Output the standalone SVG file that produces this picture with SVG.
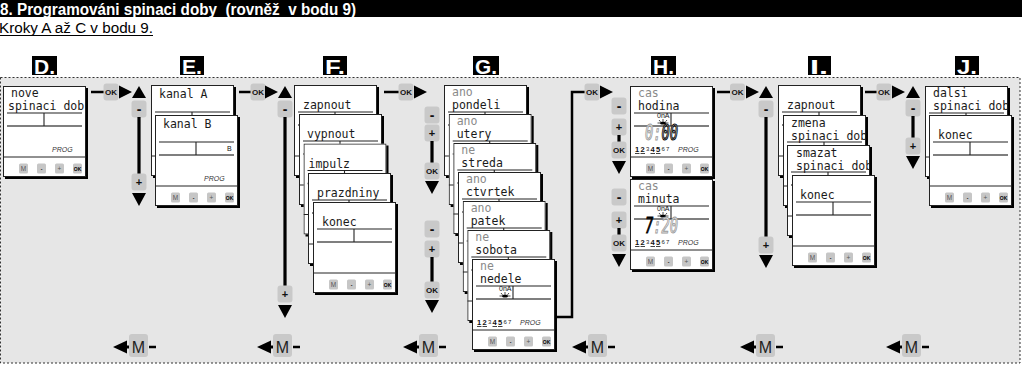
<svg xmlns="http://www.w3.org/2000/svg" xmlns:xlink="http://www.w3.org/1999/xlink" width="1022" height="379" viewBox="0 0 1022 379">
<style>
.sh{fill:#000}
.bg{fill:#fff}
.bd{fill:none;stroke:#222;stroke-width:1}
.g1{stroke:#222;stroke-width:1.1}
.g2{stroke:#555;stroke-width:1.4}
.sep{stroke:#222;stroke-width:1}
.kb{fill:#c6c6c6}
.kt{font-family:"Liberation Sans",Arial,sans-serif;font-size:6.5px;text-anchor:middle;fill:#555}
.kto{font-family:"Liberation Sans",Arial,sans-serif;font-size:5px;font-weight:bold;text-anchor:middle;fill:#000}
.t{font-family:"DejaVu Sans Mono",monospace;font-size:11.5px;fill:#1a1a1a}
.dim{fill:#8a8a8a}
.prog{font-family:"Liberation Sans",Arial,sans-serif;font-style:italic;font-size:7px;fill:#333}
.small{font-family:"Liberation Sans",Arial,sans-serif;font-size:7px;fill:#111}
.day{font-family:"Liberation Sans",Arial,sans-serif;font-size:7.5px;font-weight:bold;fill:#111}
.dayS{font-family:"Liberation Sans",Arial,sans-serif;font-size:6px;fill:#222}
.ul{stroke:#111;stroke-width:0.8}
.dg{font-family:"DejaVu Sans Mono",monospace;font-style:italic;font-size:13.7px}
.dgB{fill:#fff;stroke:#000;stroke-width:0.8}
.dgG{fill:#fff;stroke:#999;stroke-width:0.7}
.dgK{fill:#000;stroke:#000;stroke-width:0.5}
.cb{fill:#c9c9c9}
.ct{font-family:"Liberation Sans",Arial,sans-serif;font-weight:bold;text-anchor:middle;fill:#111}
.hl{stroke:#000;stroke-width:2.5;fill:none}
.vl{stroke:#000;stroke-width:3.2}
.ar{fill:#000}
.lb{font-family:"Liberation Sans",Arial,sans-serif;font-weight:bold;font-size:21px;fill:#fff}
.mt{font-family:"Liberation Sans",Arial,sans-serif;font-size:16px;fill:#222;text-anchor:middle}
</style>
<defs>
<g id="cb">
<rect class="bg" width="83" height="91"/>
<line class="g1" x1="4" y1="27" x2="79" y2="27"/>
<line class="g2" x1="4" y1="40" x2="79" y2="40"/>
<line class="g1" x1="41" y1="27" x2="41" y2="40"/>
<line class="sep" x1="0" y1="71" x2="83" y2="71"/>
<rect class="kb" x="16" y="77.5" width="9" height="10" rx="1.5"/><text class="kt" x="20.5" y="85">M</text>
<rect class="kb" x="34" y="77.5" width="9" height="10" rx="1.5"/><text class="kto" x="38.5" y="85" font-size="8">-</text>
<rect class="kb" x="52" y="77.5" width="9" height="10" rx="1.5"/><text class="kt" x="56.5" y="85">+</text>
<rect class="kb" x="70" y="77.5" width="9" height="10" rx="1.5"/><text class="kto" x="74.5" y="84.5">OK</text>
<rect class="bd" x="0.5" y="0.5" width="82" height="90"/>
</g>
<g id="kOK"><rect class="cb" x="-7.5" y="-8.5" width="15" height="17" rx="3"/><text class="ct" y="3" font-size="8">OK</text></g>
<g id="kMi"><rect class="cb" x="-7.5" y="-8.5" width="15" height="17" rx="3"/><text class="ct" y="5" font-size="14">-</text></g>
<g id="kPl"><rect class="cb" x="-7.5" y="-8.5" width="15" height="17" rx="3"/><text class="ct" y="4" font-size="11">+</text></g>
<path id="tR" class="ar" d="M0,-6.5L13,0L0,6.5Z"/>
<path id="tU" class="ar" d="M-7,12L0,0L7,12Z"/>
<path id="tD" class="ar" d="M-7,0L7,0L0,13Z"/>
<g id="sun"><ellipse rx="3" ry="1.6" fill="#000"/><path d="M0,-1.6V-4M-2.5,-1.2L-4,-3M2.5,-1.2L4,-3M-3,0H-5.5M3,0H5.5" stroke="#000" stroke-width="0.7"/></g>
<g id="mback"><path class="ar" d="M0,0L14,-6.5L14,6.5Z"/><line x1="12" y1="0" x2="17" y2="0" stroke="#000" stroke-width="3"/><rect class="cb" x="16" y="-13" width="19" height="23" rx="3"/><text class="mt" x="25.5" y="5.5">M</text><line x1="36" y1="0" x2="43" y2="0" stroke="#000" stroke-width="2.5"/></g>
<g id="days7">
<text class="day" x="5" y="66">1</text><text class="day" x="10.5" y="66">2</text><text class="dayS" x="16" y="64.5">3</text><text class="day" x="20.5" y="66">4</text><text class="day" x="26" y="66">5</text><text class="dayS" x="31.5" y="64.5">6</text><text class="dayS" x="36" y="64.5">7</text>
<line class="ul" x1="5" y1="67.5" x2="9.5" y2="67.5"/><line class="ul" x1="10.5" y1="67.5" x2="15" y2="67.5"/><line class="ul" x1="20.5" y1="67.5" x2="25" y2="67.5"/><line class="ul" x1="26" y1="67.5" x2="30.5" y2="67.5"/>
</g>
</defs>

<!-- header -->
<rect x="0" y="0" width="1022" height="17" fill="#000"/>
<text x="0" y="14.5" xml:space="preserve" font-family="'Liberation Sans',Arial,sans-serif" font-weight="bold" font-size="16" fill="#fff" textLength="356" lengthAdjust="spacingAndGlyphs">8. Programováni spinaci doby  (rovněž  v bodu 9)</text>
<text x="-1" y="32.5" font-family="'Liberation Sans',Arial,sans-serif" font-size="15.5" fill="#000" textLength="154" lengthAdjust="spacingAndGlyphs">Kroky A až C v bodu 9.</text>
<line x1="0" y1="35.5" x2="153" y2="35.5" stroke="#000" stroke-width="1.2"/>

<!-- panel -->
<rect x="0.5" y="77.5" width="1019.5" height="285.5" fill="#e6e6e6" stroke="#333" stroke-width="1" stroke-dasharray="2,2"/>

<!-- step labels -->
<g id="label-D"><rect x="32" y="56" width="25" height="19" fill="#000"/><text class="lb" x="34" y="74" textLength="21" lengthAdjust="spacingAndGlyphs">D.</text></g>
<g id="label-E"><rect x="180" y="56" width="24" height="19" fill="#000"/><text class="lb" x="182" y="74" textLength="20" lengthAdjust="spacingAndGlyphs">E.</text></g>
<g id="label-F"><rect x="323" y="56" width="24" height="19" fill="#000"/><text class="lb" x="325" y="74" textLength="20" lengthAdjust="spacingAndGlyphs">F.</text></g>
<g id="label-G"><rect x="473" y="56" width="26" height="19" fill="#000"/><text class="lb" x="475" y="74" textLength="22" lengthAdjust="spacingAndGlyphs">G.</text></g>
<g id="label-H"><rect x="651" y="56" width="25" height="19" fill="#000"/><text class="lb" x="653" y="74" textLength="21" lengthAdjust="spacingAndGlyphs">H.</text></g>
<g id="label-I"><rect x="808" y="56" width="23" height="19" fill="#000"/><text class="lb" x="810" y="74" textLength="18" lengthAdjust="spacingAndGlyphs">I.</text></g>
<g id="label-J"><rect x="955" y="56" width="24" height="19" fill="#000"/><text class="lb" x="957" y="74" textLength="20" lengthAdjust="spacingAndGlyphs">J.</text></g>

<!-- D -->
<g id="D-nove"><rect class="sh" x="5" y="88" width="83" height="91"/><svg x="3" y="86" width="83" height="91"><use href="#cb"/><text class="t" x="8" y="11">nove</text><text class="t" x="5" y="24">spinaci dob</text><text class="prog" x="49" y="66">PROG</text></svg></g>

<!-- E -->
<g id="E-kanalA"><rect class="sh" x="153" y="87" width="83" height="91"/><svg x="151" y="85" width="83" height="91"><use href="#cb"/><text class="t" x="8" y="13">kanal A</text></svg></g>
<g id="E-kanalB"><rect class="sh" x="157" y="117" width="83" height="91"/><svg x="155" y="115" width="83" height="91"><use href="#cb"/><text class="t" x="8" y="13">kanal B</text><text class="small" x="72" y="36">B</text><text class="prog" x="49" y="66">PROG</text></svg></g>

<!-- F -->
<g id="F-zapnout"><rect class="sh" x="296" y="87" width="83" height="91"/><svg x="294" y="85" width="83" height="91"><use href="#cb"/><text class="t" x="9" y="24">zapnout</text></svg></g>
<g id="F-vypnout"><rect class="sh" x="301" y="116" width="83" height="91"/><svg x="299" y="114" width="83" height="91"><use href="#cb"/><text class="t" x="8" y="24">vypnout</text></svg></g>
<g id="F-impulz"><rect class="sh" x="305.5" y="145.5" width="83" height="91"/><svg x="303.5" y="143.5" width="83" height="91"><use href="#cb"/><text class="t" x="5" y="24">impulz</text></svg></g>
<g id="F-prazdniny"><rect class="sh" x="310" y="175" width="83" height="91"/><svg x="308" y="173" width="83" height="91"><use href="#cb"/><text class="t" x="9" y="24">prazdniny</text></svg></g>
<g id="F-konec"><rect class="sh" x="315" y="204" width="83" height="91"/><svg x="313" y="202" width="83" height="91"><use href="#cb"/><text class="t" x="9" y="24">konec</text></svg></g>

<!-- G -->
<g id="G-pondeli"><rect class="sh" x="446" y="87" width="83" height="91"/><svg x="444" y="85" width="83" height="91"><use href="#cb"/><text class="t dim" x="8" y="11">ano</text><text class="t" x="8" y="24">pondeli</text></svg></g>
<g id="G-utery"><rect class="sh" x="450.7" y="116" width="83" height="91"/><svg x="448.7" y="114" width="83" height="91"><use href="#cb"/><text class="t dim" x="8" y="11">ano</text><text class="t" x="8" y="24">utery</text></svg></g>
<g id="G-streda"><rect class="sh" x="455.3" y="145" width="83" height="91"/><svg x="453.3" y="143" width="83" height="91"><use href="#cb"/><text class="t dim" x="8" y="11">ne</text><text class="t" x="8" y="24">streda</text></svg></g>
<g id="G-ctvrtek"><rect class="sh" x="460" y="174" width="83" height="91"/><svg x="458" y="172" width="83" height="91"><use href="#cb"/><text class="t dim" x="8" y="11">ano</text><text class="t" x="8" y="24">ctvrtek</text></svg></g>
<g id="G-patek"><rect class="sh" x="464.7" y="203" width="83" height="91"/><svg x="462.7" y="201" width="83" height="91"><use href="#cb"/><text class="t dim" x="8" y="11">ano</text><text class="t" x="8" y="24">patek</text></svg></g>
<g id="G-sobota"><rect class="sh" x="469.3" y="232" width="83" height="91"/><svg x="467.3" y="230" width="83" height="91"><use href="#cb"/><text class="t dim" x="8" y="11">ne</text><text class="t" x="8" y="24">sobota</text></svg></g>
<g id="G-nedele"><rect class="sh" x="474" y="261" width="83" height="91"/><svg x="472" y="259" width="83" height="91"><use href="#cb"/><text class="t dim" x="8" y="11">ne</text><text class="t" x="8" y="24">nedele</text><text class="small" x="27" y="32">0nA</text><use href="#sun" x="33" y="37"/><use href="#days7"/><text class="prog" x="48" y="66">PROG</text></svg></g>

<!-- H -->
<g id="H-hodina"><rect class="sh" x="632" y="88" width="83" height="91"/><svg x="630" y="86" width="83" height="91"><use href="#cb"/><text class="t dim" x="8" y="11">cas</text><text class="t" x="8" y="24">hodina</text><text class="small" x="27" y="32">0nA</text><use href="#sun" x="33" y="37"/><text class="dg" transform="translate(15,54) scale(1,1.55)"><tspan class="dgG">0:</tspan><tspan class="dgB">00</tspan></text><use href="#days7"/><text class="prog" x="48" y="66">PROG</text></svg></g>
<g id="H-minuta"><rect class="sh" x="632" y="181" width="83" height="91"/><svg x="630" y="179" width="83" height="91"><use href="#cb"/><text class="t dim" x="8" y="11">cas</text><text class="t" x="8" y="24">minuta</text><text class="small" x="27" y="32">0nA</text><use href="#sun" x="33" y="37"/><text class="dg" transform="translate(15,54) scale(1,1.55)"><tspan class="dgK">7</tspan><tspan class="dgG">:20</tspan></text><use href="#days7"/><text class="prog" x="48" y="66">PROG</text></svg></g>

<!-- I -->
<g id="I-zapnout"><rect class="sh" x="780" y="87" width="83" height="91"/><svg x="778" y="85" width="83" height="91"><use href="#cb"/><text class="t" x="9" y="24">zapnout</text></svg></g>
<g id="I-zmena"><rect class="sh" x="785" y="117" width="83" height="91"/><svg x="783" y="115" width="83" height="91"><use href="#cb"/><text class="t" x="8" y="12">zmena</text><text class="t" x="8" y="25">spinaci dob</text></svg></g>
<g id="I-smazat"><rect class="sh" x="789" y="147" width="83" height="91"/><svg x="787" y="145" width="83" height="91"><use href="#cb"/><text class="t" x="9" y="12">smazat</text><text class="t" x="9" y="25">spinaci dob</text></svg></g>
<g id="I-konec"><rect class="sh" x="794" y="177" width="83" height="91"/><svg x="792" y="175" width="83" height="91"><use href="#cb"/><text class="t" x="8" y="24">konec</text></svg></g>

<!-- J -->
<g id="J-dalsi"><rect class="sh" x="927" y="88" width="83" height="91"/><svg x="925" y="86" width="83" height="91"><use href="#cb"/><text class="t" x="8" y="11">dalsi</text><text class="t" x="8" y="24">spinaci dob</text></svg></g>
<g id="J-konec"><rect class="sh" x="931" y="117" width="83" height="91"/><svg x="929" y="115" width="83" height="91"><use href="#cb"/><text class="t" x="9" y="24">konec</text></svg></g>

<!-- connectors -->
<g id="connectors">
<line class="hl" x1="91" y1="92" x2="104" y2="92"/><use href="#kOK" x="111" y="92"/><use href="#tR" x="119" y="92"/>
<use href="#tU" x="139" y="86"/><use href="#kMi" x="139" y="109"/><line class="vl" x1="139" y1="117" x2="139" y2="174"/><use href="#kPl" x="139" y="182"/><use href="#tD" x="139" y="193"/>
<line class="hl" x1="239" y1="92" x2="251" y2="92"/><use href="#kOK" x="258" y="92"/><use href="#tR" x="265" y="92"/>
<use href="#tU" x="285" y="86"/><use href="#kMi" x="285" y="109"/><line class="vl" x1="285" y1="117" x2="285" y2="286"/><use href="#kPl" x="285" y="294"/><use href="#tD" x="285" y="305"/>
<line class="hl" x1="384" y1="92" x2="399" y2="92"/><use href="#kOK" x="406" y="92"/><use href="#tR" x="414" y="92"/>
<use href="#kMi" x="432" y="115"/><use href="#kPl" x="432" y="133"/><line class="vl" x1="432" y1="141" x2="432" y2="164"/><use href="#kOK" x="432" y="171"/><use href="#tD" x="432" y="181"/>
<use href="#kMi" x="432" y="229"/><use href="#kPl" x="432" y="249"/><line class="vl" x1="432" y1="257" x2="432" y2="283"/><use href="#kOK" x="432" y="290"/><use href="#tD" x="432" y="300"/>
<polyline class="hl" points="557,317 572,317 572,92 585,92"/><use href="#kOK" x="592" y="92"/><use href="#tR" x="600" y="92"/>
<use href="#kMi" x="619" y="106"/><use href="#kPl" x="619" y="127"/><line class="vl" x1="619" y1="135" x2="619" y2="143"/><use href="#kOK" x="619" y="150"/><use href="#tD" x="619" y="161"/>
<use href="#kMi" x="619" y="197"/><use href="#kPl" x="619" y="220"/><line class="vl" x1="619" y1="228" x2="619" y2="236"/><use href="#kOK" x="619" y="243"/><use href="#tD" x="619" y="254"/>
<line class="hl" x1="717" y1="92" x2="730" y2="92"/><use href="#kOK" x="737.5" y="92"/><use href="#tR" x="746" y="92"/>
<use href="#tU" x="766" y="86"/><use href="#kMi" x="766" y="109"/><line class="vl" x1="766" y1="117" x2="766" y2="238"/><use href="#kPl" x="766" y="245"/><use href="#tD" x="766" y="255"/>
<line class="hl" x1="865" y1="92" x2="877" y2="92"/><use href="#kOK" x="884" y="92"/><use href="#tR" x="892" y="92"/>
<use href="#tU" x="913" y="86"/><use href="#kMi" x="913" y="108"/><line class="vl" x1="913" y1="116" x2="913" y2="139"/><use href="#kPl" x="913" y="146"/><use href="#tD" x="913" y="156"/>
<use href="#mback" x="113" y="347"/>
<use href="#mback" x="257" y="347"/>
<use href="#mback" x="403" y="347"/>
<use href="#mback" x="572" y="347"/>
<use href="#mback" x="740" y="347"/>
<use href="#mback" x="886" y="347"/>
</g>
</svg>
